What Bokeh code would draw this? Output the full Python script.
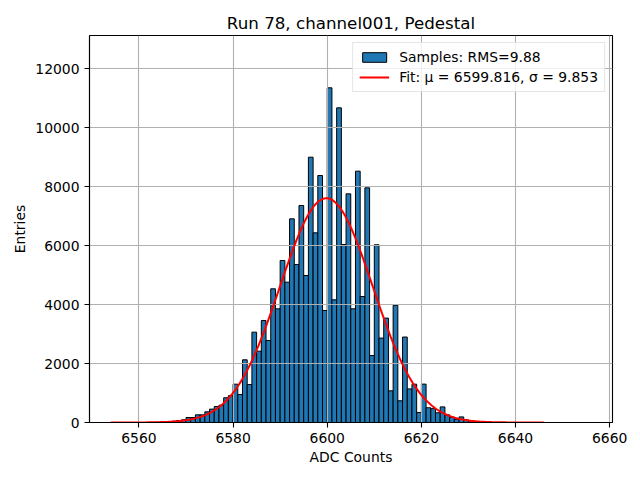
import numpy as np
from bokeh.plotting import figure
from bokeh.models import Range1d, FixedTicker, Legend, LegendItem, ColumnDataSource
from bokeh.embed import file_html
from bokeh.resources import INLINE

# ---- data ----
codes = list(range(6563, 6633))
counts = [5, 10, 18, 30, 45, 68, 90, 170, 170, 260,
          260, 362, 454, 543, 588, 840, 910, 1300, 950, 2127,
          1289, 3065, 2420, 3460, 2782, 4536, 3857, 5496, 4761, 6910,
          5360, 7362, 4987, 9001, 6435, 8380, 3800, 11355, 4162, 10676,
          6039, 7758, 3857, 8527, 4275, 7962, 2273, 6030, 2864, 3542,
          1075, 3975, 736, 2900, 1140, 1300, 340, 1302, 500, 470,
          330, 530, 260, 180, 110, 190, 90, 55, 30, 15]
fit_mu = 6599.816
fit_sigma = 9.853
fit_amp = 7609
fit_xmin, fit_xmax = 6554.0, 6646.0
x_ticks = [6560, 6580, 6600, 6620, 6640, 6660]
y_ticks = [0, 2000, 4000, 6000, 8000, 10000, 12000]
title_text = "Run 78, channel001, Pedestal"
label_samples = "Samples: RMS=9.88"
label_fit = "Fit: \u03bc = 6599.816, \u03c3 = 9.853"

FONT = "DejaVu Sans"

p = figure(frame_width=523, frame_height=387,
           min_border_left=89, min_border_right=28,
           min_border_top=35, min_border_bottom=58,
           x_range=Range1d(6549.5, 6660.6), y_range=Range1d(0, 13130),
           output_backend="svg", toolbar_location=None,
           title=title_text)

p.title.text_font = FONT
p.title.text_font_size = "16.7px"
p.title.text_font_style = "normal"
p.title.align = "center"
p.title.text_color = "black"
p.title.standoff = 5

bar_src = ColumnDataSource(dict(left=codes, right=[c + 1 for c in codes],
                                top=counts, bottom=[0] * len(codes)))
bars = p.quad(left="left", right="right", top="top", bottom="bottom",
              source=bar_src, fill_color="#1f77b4", line_color="black",
              line_width=1)
bars.level = "image"

fx = np.linspace(fit_xmin, fit_xmax, 400)
fy = fit_amp * np.exp(-0.5 * ((fx - fit_mu) / fit_sigma) ** 2)
fit = p.line(fx, fy, line_color="red", line_width=2)

for g in (p.xgrid, p.ygrid):
    g.grid_line_color = "#b0b0b0"
    g.grid_line_width = 1.1
p.xgrid.ticker = FixedTicker(ticks=x_ticks)
p.ygrid.ticker = FixedTicker(ticks=y_ticks)

p.xaxis.ticker = FixedTicker(ticks=x_ticks)
p.yaxis.ticker = FixedTicker(ticks=y_ticks)
for ax in (p.xaxis[0], p.yaxis[0]):
    ax.major_label_text_font = FONT
    ax.major_label_text_font_size = "13.9px"
    ax.major_label_text_color = "black"
    ax.axis_label_text_font = FONT
    ax.axis_label_text_font_size = "13.9px"
    ax.axis_label_text_font_style = "normal"
    ax.axis_label_text_color = "black"
    ax.major_tick_out = 5
    ax.major_tick_in = 0
    ax.minor_tick_out = 0
    ax.minor_tick_in = 0
    ax.major_tick_line_color = "black"
    ax.axis_line_color = "black"
    ax.axis_line_width = 1.1
    ax.major_tick_line_width = 1.1
    ax.major_label_standoff = 5
p.xaxis.axis_label = "ADC Counts"
p.yaxis.axis_label = "Entries"
p.xaxis.axis_label_standoff = 3
p.yaxis.axis_label_standoff = 4
p.yaxis.major_label_orientation = "horizontal"

p.outline_line_color = "black"
p.outline_line_width = 1.1
p.outline_line_alpha = 1.0
p.background_fill_color = "white"
p.border_fill_color = "white"

legend = Legend(items=[LegendItem(label=label_samples, renderers=[bars]),
                       LegendItem(label=label_fit, renderers=[fit])],
                location="top_right")
legend.label_text_font = FONT
legend.label_text_font_size = "13.9px"
legend.label_text_color = "black"
legend.glyph_width = 30
legend.glyph_height = 12
legend.label_standoff = 10
legend.spacing = 4
legend.padding = 6
legend.margin = 7
legend.border_line_color = "#cccccc"
legend.border_line_width = 1
legend.background_fill_alpha = 0.8
p.add_layout(legend)

open("out.html", "w").write(file_html(p, INLINE))
